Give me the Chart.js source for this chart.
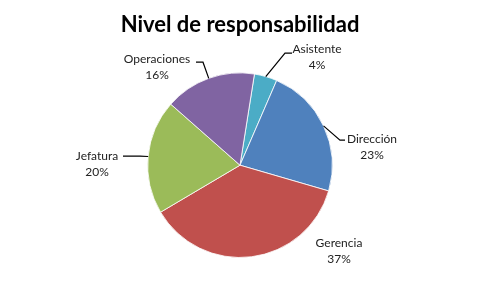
<!DOCTYPE html>
<html>
<head>
    <meta charset="utf-8">
    <title>Nivel de responsabilidad</title>
    <script src="https://cdn.jsdelivr.net/npm/chart.js@4/dist/chart.umd.min.js"></script>
    <style>
        html, body {
            margin: 0;
            padding: 0;
            background: #fff;
        }
        .chart-container {
            position: relative;
            width: 480px;
            height: 288px;
        }
    </style>
</head>
<body>
    <div class="chart-container">
        <canvas id="pie"></canvas>
    </div>

    <script>
        // Data
        const categories = ['Asistente', 'Dirección', 'Gerencia', 'Jefatura', 'Operaciones'];
        const shares = [4, 23, 37, 20, 16];

        const sliceColors = ['#4BACC6', '#4F81BD', '#C0504D', '#9BBB59', '#8064A2'];

        // label placement relative to pie centre (text centre, leader elbow/end)
        const labelLayout = [
            { text: [77, -116], elbow: [45, -112], end: [52, -112] },
            { text: [132, -26], elbow: [100, -25], end: [105, -25] },
            { text: [99, 78], elbow: null, end: null },
            { text: [-143, -9], elbow: [-100, -9], end: [-117, -9] },
            { text: [-83, -106], elbow: [-37, -103], end: [-44, -103] }
        ];

        const pieLabels = {
            id: 'pieLabels',
            afterDatasetsDraw(chart) {
                const ctx = chart.ctx;
                const meta = chart.getDatasetMeta(0);
                const total = shares.reduce((a, b) => a + b, 0);
                ctx.save();
                meta.data.forEach((arc, i) => {
                    const p = arc.getProps(['x', 'y', 'startAngle', 'endAngle', 'outerRadius'], true);
                    const cx = p.x, cy = p.y;
                    const mid = (p.startAngle + p.endAngle) / 2;
                    const lay = labelLayout[i];
                    if (lay.elbow) {
                        ctx.strokeStyle = '#000';
                        ctx.lineWidth = 1.2;
                        ctx.beginPath();
                        ctx.moveTo(cx + Math.cos(mid) * p.outerRadius, cy + Math.sin(mid) * p.outerRadius);
                        ctx.lineTo(cx + lay.elbow[0], cy + lay.elbow[1]);
                        ctx.lineTo(cx + lay.end[0], cy + lay.end[1]);
                        ctx.stroke();
                    }
                    ctx.fillStyle = '#222';
                    ctx.font = '12px Lato, "Open Sans", sans-serif';
                    ctx.textAlign = 'center';
                    ctx.textBaseline = 'middle';
                    const tx = cx + lay.text[0], ty = cy + lay.text[1];
                    ctx.fillText(categories[i], tx, ty);
                    ctx.fillText(Math.round(shares[i] / total * 100) + '%', tx, ty + 16);
                });
                ctx.restore();
            }
        };

        new Chart(document.getElementById('pie').getContext('2d'), {
            type: 'pie',
            data: {
                labels: categories,
                datasets: [{
                    data: shares,
                    backgroundColor: sliceColors,
                    borderColor: 'rgba(255,255,255,0.8)',
                    borderWidth: 1
                }]
            },
            options: {
                responsive: true,
                maintainAspectRatio: false,
                animation: false,
                rotation: 9,
                layout: {
                    padding: { top: 0, bottom: 30, left: 0, right: 0 }
                },
                plugins: {
                    legend: { display: false },
                    tooltip: { enabled: false },
                    title: {
                        display: true,
                        text: 'Nivel de responsabilidad',
                        color: '#000',
                        font: { family: 'Lato, "Open Sans", sans-serif', size: 22, weight: 'bold', lineHeight: 1.2 },
                        padding: { top: 12, bottom: 34 }
                    }
                }
            },
            plugins: [pieLabels]
        });
    </script>
</body>
</html>
